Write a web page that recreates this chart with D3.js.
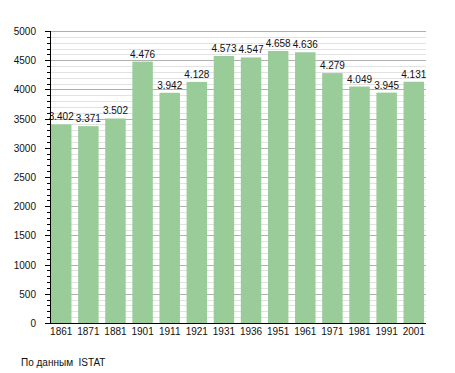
<!DOCTYPE html>
<html>
<head>
<meta charset="utf-8">
<script src="https://cdn.jsdelivr.net/npm/d3@7"></script>
<style>
  body { margin: 0; background: #fff; }
  text { font-family: "Liberation Sans", Arial, sans-serif; }
</style>
</head>
<body>
<div id="chart"></div>
<script>
var years = ["1861", "1871", "1881", "1901", "1911", "1921", "1931", "1936", "1951", "1961", "1971", "1981", "1991", "2001"];
var population = [3402, 3371, 3502, 4476, 3942, 4128, 4573, 4547, 4658, 4636, 4279, 4049, 3945, 4131];
var yTicks = [0, 500, 1000, 1500, 2000, 2500, 3000, 3500, 4000, 4500, 5000];
var source = "По данным  ISTAT";

var width = 455, height = 373;
var plotLeft = 50, plotRight = 426, plotTop = 31, plotBottom = 323;

var svg = d3.select("#chart").append("svg")
  .attr("width", width)
  .attr("height", height);

var x = d3.scaleBand().domain(years).range([51, 424]).paddingInner(0.245).paddingOuter(0);
var y = d3.scaleLinear().domain([0, 5000]).range([plotBottom, plotTop]);

function py(d) { return Math.round(y(d)) + 0.5; }

// minor grid every 100
var minor = d3.range(100, 5001, 100).filter(function (v) { return v % 500 != 0; });
svg.append("g").selectAll("line").data(minor).enter().append("line")
  .attr("x1", plotLeft).attr("x2", plotRight)
  .attr("y1", py).attr("y2", py)
  .attr("stroke", "#e2e2e2");

svg.append("g").selectAll("line").data(yTicks.slice(1)).enter().append("line")
  .attr("x1", plotLeft).attr("x2", plotRight)
  .attr("y1", py).attr("y2", py)
  .attr("stroke", "#b0b0b0");

// bars
svg.append("g").selectAll("rect").data(population).enter().append("rect")
  .attr("x", function (d, i) { return x(years[i]); })
  .attr("y", function (d) { return y(d); })
  .attr("width", x.bandwidth())
  .attr("height", function (d) { return plotBottom - y(d); })
  .attr("fill", "#99cc99");

// value labels
svg.append("g").selectAll("text").data(population).enter().append("text")
  .attr("x", function (d, i) { return x(years[i]) + x.bandwidth() / 2; })
  .attr("y", function (d) { return y(d) - 4; })
  .attr("text-anchor", "middle")
  .attr("font-size", "10px")
  .attr("fill", "#111")
  .text(function (d) { return d3.format(",")(d).replace(",", "."); });

// y axis ticks
svg.append("g").selectAll("line").data(d3.range(0, 5001, 100)).enter().append("line")
  .attr("x1", function (d) { return d % 500 == 0 ? 45 : 47; })
  .attr("x2", plotLeft)
  .attr("y1", py).attr("y2", py)
  .attr("stroke", "#000");

svg.append("g").selectAll("text").data(yTicks).enter().append("text")
  .attr("x", 36)
  .attr("y", function (d) { return y(d) + 4; })
  .attr("text-anchor", "end")
  .attr("font-size", "10px")
  .attr("fill", "#111")
  .text(function (d) { return d; });

// axis lines
svg.append("line").attr("x1", plotLeft + 0.5).attr("x2", plotLeft + 0.5).attr("y1", plotTop).attr("y2", plotBottom + 1)
  .attr("stroke", "#000");
svg.append("line").attr("x1", plotLeft).attr("x2", plotRight).attr("y1", plotBottom + 0.5).attr("y2", plotBottom + 0.5)
  .attr("stroke", "#000");

// x labels
svg.append("g").selectAll("text").data(years).enter().append("text")
  .attr("x", function (d) { return x(d) + x.bandwidth() / 2; })
  .attr("y", 335)
  .attr("text-anchor", "middle")
  .attr("font-size", "10px")
  .attr("fill", "#111")
  .text(function (d) { return d; });

svg.append("text")
  .attr("x", 21).attr("y", 366)
  .attr("font-size", "10px")
  .attr("fill", "#111")
  .style("white-space", "pre")
  .text(source);
</script>
</body>
</html>
